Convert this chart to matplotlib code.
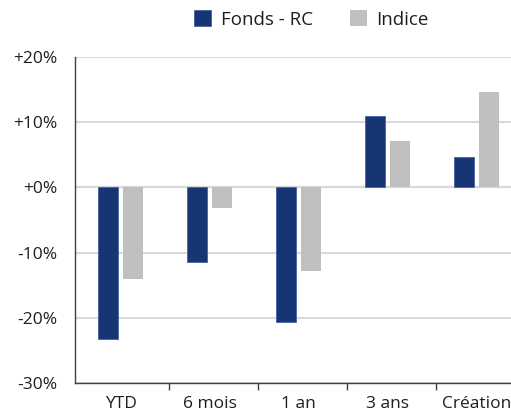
import matplotlib

matplotlib.use("Agg")
import matplotlib.pyplot as plt  # noqa: E402
import numpy as np  # noqa: E402

plt.rcParams["font.family"] = ["Open Sans", "DejaVu Sans"]

categories = ["YTD", "6 mois", "1 an", "3 ans", "Création"]
fonds_rc = [-23.3, -11.5, -20.6, 11.0, 4.7]
indice = [-14.0, -3.2, -12.8, 7.1, 14.6]
y_ticks = [-30, -20, -10, 0, 10, 20]

NAVY = "#163574"
GREY = "#bfbfbf"

fig = plt.figure(figsize=(5.11, 4.12), dpi=100)
ax = fig.add_axes([75 / 511, 29 / 412, 436 / 511, 326 / 412])

x = np.arange(len(categories))
w = 0.22
ax.bar(x - 0.14, fonds_rc, width=w, color=NAVY, edgecolor="#4a62a0", linewidth=0.6,
       label="Fonds - RC", zorder=3)
ax.bar(x + 0.14, indice, width=w, color=GREY, label="Indice", zorder=3)

ax.set_xlim(-0.511, 4.388)
ax.set_ylim(-30, 20)
ax.set_yticks(y_ticks)
ax.set_yticklabels([f"{v:+d}%" if v != 0 else "+0%" for v in y_ticks])
ax.yaxis.grid(True, color="#d9d9d9", linewidth=1.5, zorder=0)
ax.axhline(0, color="#bfbfbf", linewidth=1.5, zorder=1)

ax.set_xticks(x)
ax.set_xticklabels(categories)
ax.set_xticks(x[:-1] + 0.55, minor=True)
ax.tick_params(axis="x", which="major", length=0, pad=9, labelsize=12.5, colors="#1e1e1e")
ax.tick_params(axis="x", which="minor", length=5, width=1, color="#404040")
ax.tick_params(axis="y", length=0, pad=13, labelsize=12.5, colors="#1e1e1e")

for s in ["top", "right"]:
    ax.spines[s].set_visible(False)
for s in ["left", "bottom"]:
    ax.spines[s].set_color("#404040")
    ax.spines[s].set_linewidth(1)

ax.legend(loc="center", bbox_to_anchor=(0.543, 1.115), ncol=2, frameon=False,
          fontsize=13.5, handlelength=0.9, handleheight=0.9, handletextpad=0.5,
          columnspacing=2.0, borderpad=0, labelcolor="#1e1e1e")

fig.savefig("out.png")
plt.close(fig)
